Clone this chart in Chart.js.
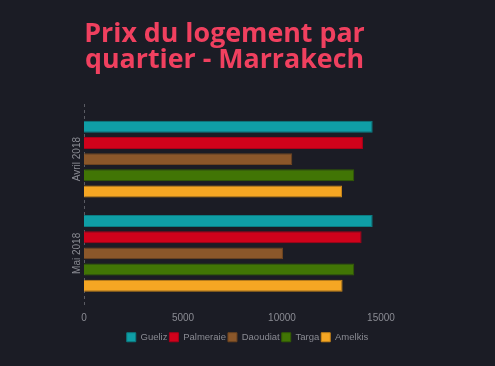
<!DOCTYPE html>
<html>
<head>
<meta charset="utf-8">
<script src="https://cdn.jsdelivr.net/npm/chart.js@4"></script>
<style>
  html, body { margin: 0; padding: 0; background: #1b1c25; }
  #wrap { position: relative; width: 495px; height: 366px; }
  #titre {
    position: absolute; left: 0; top: 19px; width: 449px;
    text-align: center; color: #f0405f;
    font-family: "Open Sans", sans-serif; font-weight: 700;
    font-size: 26.8px; line-height: 25.5px; margin: 0;
  }
</style>
</head>
<body>
<div id="wrap">
  <h1 id="titre">Prix du logement par<br>quartier - Marrakech</h1>
  <canvas id="grafica" width="495" height="366"></canvas>
</div>
<script>
const MOIS = ['Avril 2018', 'Mai 2018'];
const QUARTIERS = ['Gueliz', 'Palmeraie', 'Daoudiat', 'Targa', 'Amelkis'];
const GUELIZ = [14580, 14580];
const PALMERAIE = [14090, 14020];
const DAOUDIAT = [10520, 10050];
const TARGA = [13650, 13650];
const AMELKIS = [13030, 13060];
const TICKS_X = [0, 5000, 10000, 15000];

const COULEURS = ['#0f9ea6', '#d0021b', '#8b572a', '#417505', '#f5a623'];
const BORDS = ['#0b7c82', '#a8011a', '#6d4420', '#335d04', '#c9861a'];
const VALEURS = [GUELIZ, PALMERAIE, DAOUDIAT, TARGA, AMELKIS];
const FUENTE = '"Liberation Sans", Arial, sans-serif';
const GRIS = '#8a8b93';

// axe y en pointillés (un peu plus long que la zone) + libellés verticaux
const ejeY = {
    id: 'ejeY',
    afterLayout(chart) {
        // légende centrée sur tout le canvas, pas seulement la zone du graphique
        chart.legend.left = 0;
        chart.legend.right = chart.width;
    },
    beforeDatasetsDraw(chart) {
        const c = chart.ctx;
        const a = chart.chartArea;
        const y = chart.scales.y;
        c.save();
        c.strokeStyle = '#5a5b63';
        c.lineWidth = 1;
        c.setLineDash([3, 3]);
        c.beginPath();
        c.moveTo(a.left + 0.5, a.top - 8);
        c.lineTo(a.left + 0.5, a.bottom + 6);
        c.stroke();
        c.setLineDash([]);
        c.fillStyle = GRIS;
        c.font = '10px ' + FUENTE;
        c.textAlign = 'center';
        c.textBaseline = 'middle';
        MOIS.forEach((m, i) => {
            c.save();
            c.translate(a.left - 7, y.getPixelForTick(i));
            c.rotate(-Math.PI / 2);
            c.fillText(m, 0, 0);
            c.restore();
        });
        c.restore();
    }
};

const ctx = document.getElementById('grafica').getContext('2d');
const myChart = new Chart(ctx, {
    type: 'bar',
    data: {
        labels: MOIS,
        datasets: QUARTIERS.map((q, i) => ({
            label: q,
            data: VALEURS[i],
            backgroundColor: COULEURS[i],
            borderColor: BORDS[i],
            borderWidth: 1,
            categoryPercentage: 0.86,
            barPercentage: 0.74
        }))
    },
    options: {
        indexAxis: 'y',
        responsive: false,
        animation: false,
        layout: {
            padding: { top: 112, left: 84, right: 114, bottom: 14 }
        },
        scales: {
            x: {
                min: 0,
                max: 15000,
                grid: { display: false, drawTicks: false },
                border: { display: false },
                afterBuildTicks: axis => { axis.ticks = TICKS_X.map(v => ({ value: v })); },
                afterFit: axis => { axis.height -= 6; },
                ticks: {
                    color: GRIS,
                    callback: v => String(v),
                    font: { family: FUENTE, size: 10 },
                    padding: 12
                }
            },
            y: {
                grid: { display: false, drawTicks: false },
                border: { display: false },
                ticks: { display: false }
            }
        },
        plugins: {
            legend: {
                position: 'bottom',
                labels: {
                    color: GRIS,
                    boxWidth: 9,
                    boxHeight: 9,
                    padding: 2,
                    font: { family: FUENTE, size: 9.5 }
                }
            },
            tooltip: { enabled: false }
        }
    },
    plugins: [ejeY]
});
</script>
</body>
</html>
